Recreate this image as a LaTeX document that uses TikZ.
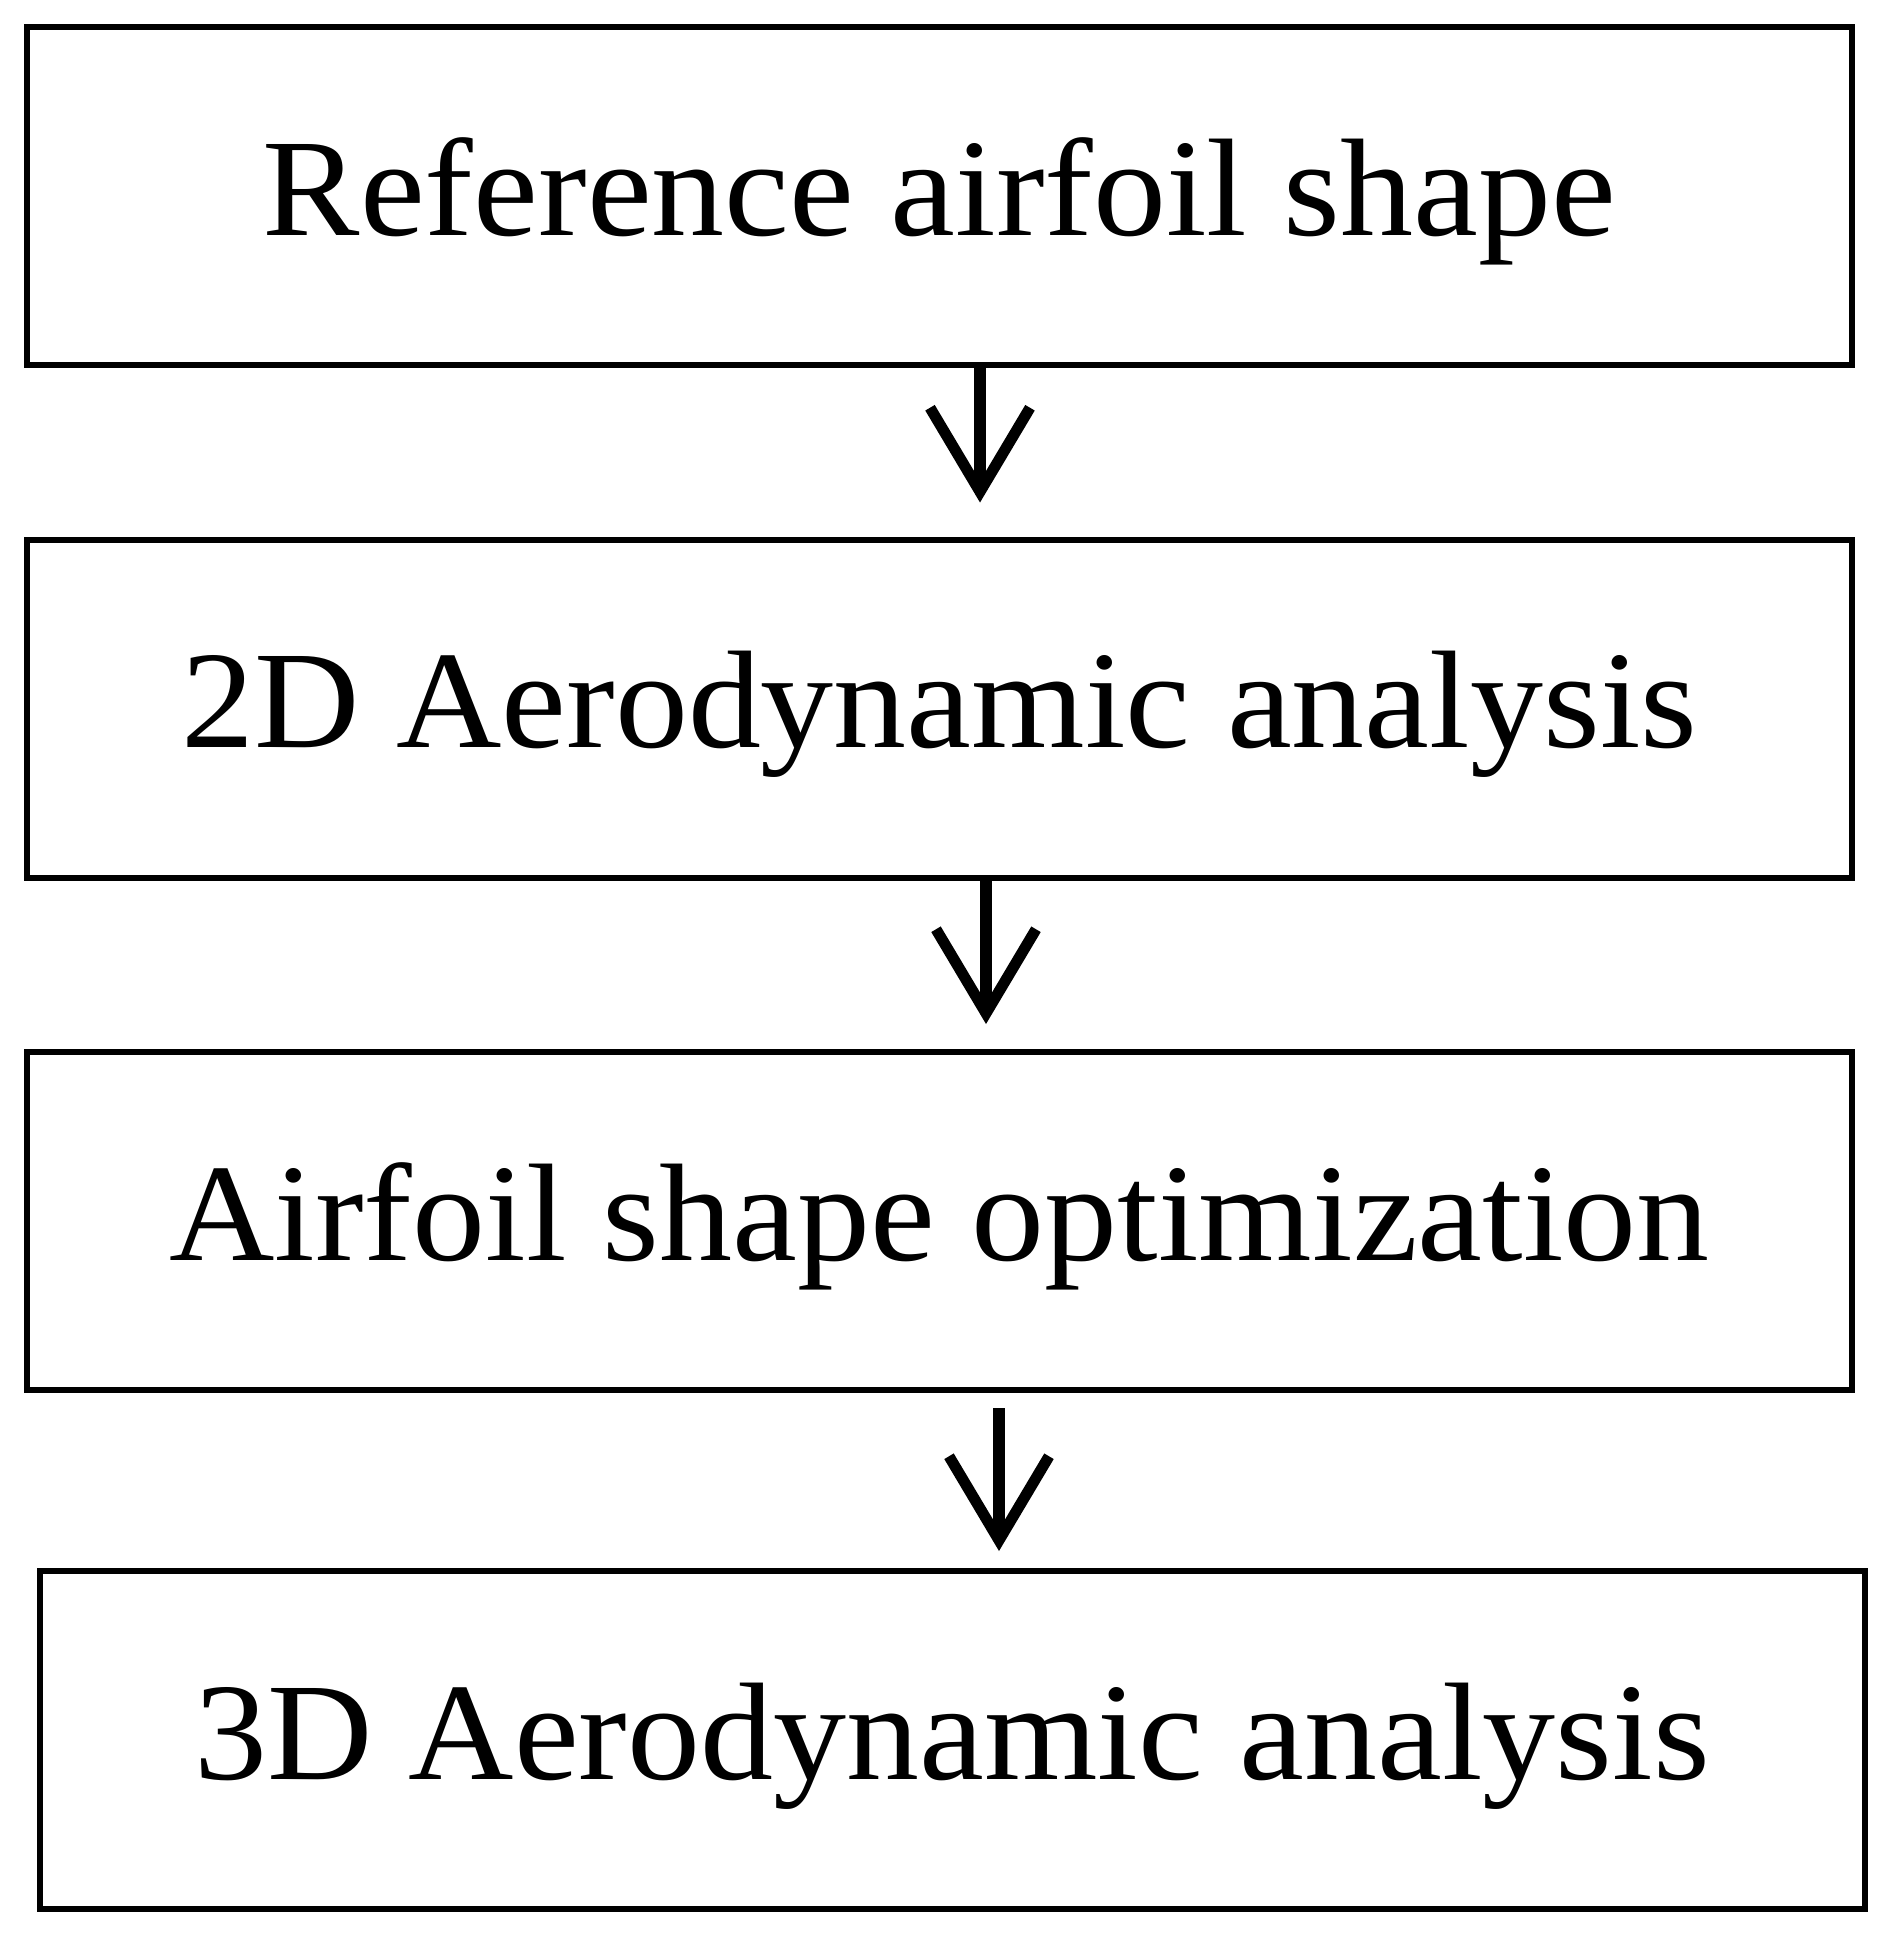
\documentclass[tikz,border=0pt]{standalone}
\usepackage{fontspec}
\setmainfont{Liberation Serif}[FakeStretch=1.05]
\usetikzlibrary{arrows.meta}
\begin{document}
\begin{tikzpicture}[x=1pt,y=-1pt,
  stage/.style={draw=black, line width=6pt, inner sep=0pt, minimum width=1825pt, minimum height=338pt,
    font=\fontsize{139}{146}\selectfont, text depth=18pt},
  flow/.style={line width=12pt, -{Straight Barb[length=84pt,width=100pt,line width=11pt]}}]
\useasboundingbox (0,0) rectangle (1888,1941);
\node[stage] (b1) at (939.5,195.5) {Reference airfoil shape};
\node[stage] (b2) at (939.5,708.5) {2D Aerodynamic analysis};
\node[stage] (b3) at (939.5,1221) {Airfoil shape optimization};
\node[stage] (b4) at (952,1740) {3D Aerodynamic analysis};
\coordinate (s1) at ([xshift=40.5pt]b1.south);
\coordinate (s2) at ([xshift=46.5pt]b2.south);
\coordinate (s3) at ([xshift=59.5pt]b3.south);
\draw[flow, shorten >=34pt] (s1) -- (s1 |- b2.north);
\draw[flow, shorten >=25pt] (s2) -- (s2 |- b3.north);
\draw[flow, shorten <=15pt, shorten >=17pt] (s3) -- (s3 |- b4.north);
\end{tikzpicture}
\end{document}
